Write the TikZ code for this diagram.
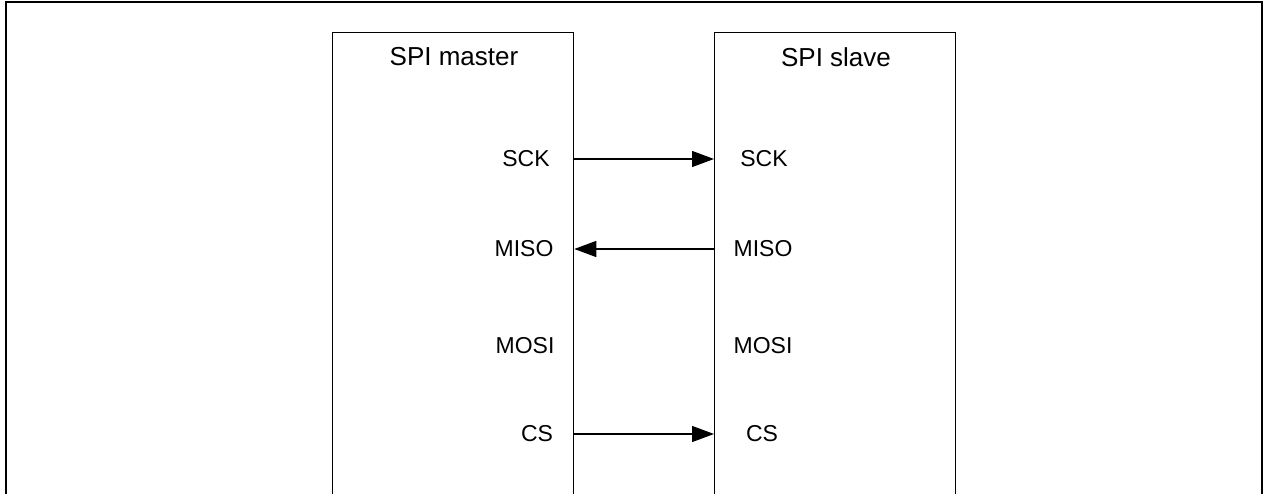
\documentclass[tikz,border=0pt]{standalone}
\usepackage{fontspec}
\setmainfont{Liberation Sans}
\usetikzlibrary{arrows.meta}

\begin{document}
\begin{tikzpicture}[x=1pt, y=-1pt,
  chip/.style={draw, line width=1.3pt, minimum width=241pt, minimum height=600pt, anchor=north west, inner sep=0pt},
  title/.style={font=\fontsize{26}{30}\selectfont},
  port/.style={font=\fontsize{23}{27}\selectfont, inner sep=0pt},
  sig/.style={line width=1.3pt, -{Triangle[length=22pt, width=16pt]}}
]
  \useasboundingbox (0,0) rectangle (1267,494);
  \clip (0,0) rectangle (1267,494);
  \draw[line width=2.2pt] (6,2) rectangle (1262,620);

  \node[chip] (master) at (332,32) {};
  \node[chip] (slave) at (714,32) {};
  \node[title] (mtitle) at (454,57) {SPI master};
  \node[title] (stitle) at (836,57) {SPI slave};

  % ports of the master
  \node[port] (mSCK) at (526,159) {SCK};
  \node[port] (mMISO) at (524,249) {MISO};
  \node[port] (mMOSI) at (525,346) {MOSI};
  \node[port] (mCS) at (537,434) {CS};
  % ports of the slave
  \node[port] (sSCK) at (764,159) {SCK};
  \node[port] (sMISO) at (763,249) {MISO};
  \node[port] (sMOSI) at (763,346) {MOSI};
  \node[port] (sCS) at (762,434) {CS};

  \draw[sig] (mSCK -| master.east) -- (sSCK -| slave.west);
  \draw[sig] (sMISO -| slave.west) -- (mMISO -| master.east);
  \draw[sig] (mCS -| master.east) -- (sCS -| slave.west);
\end{tikzpicture}
\end{document}
